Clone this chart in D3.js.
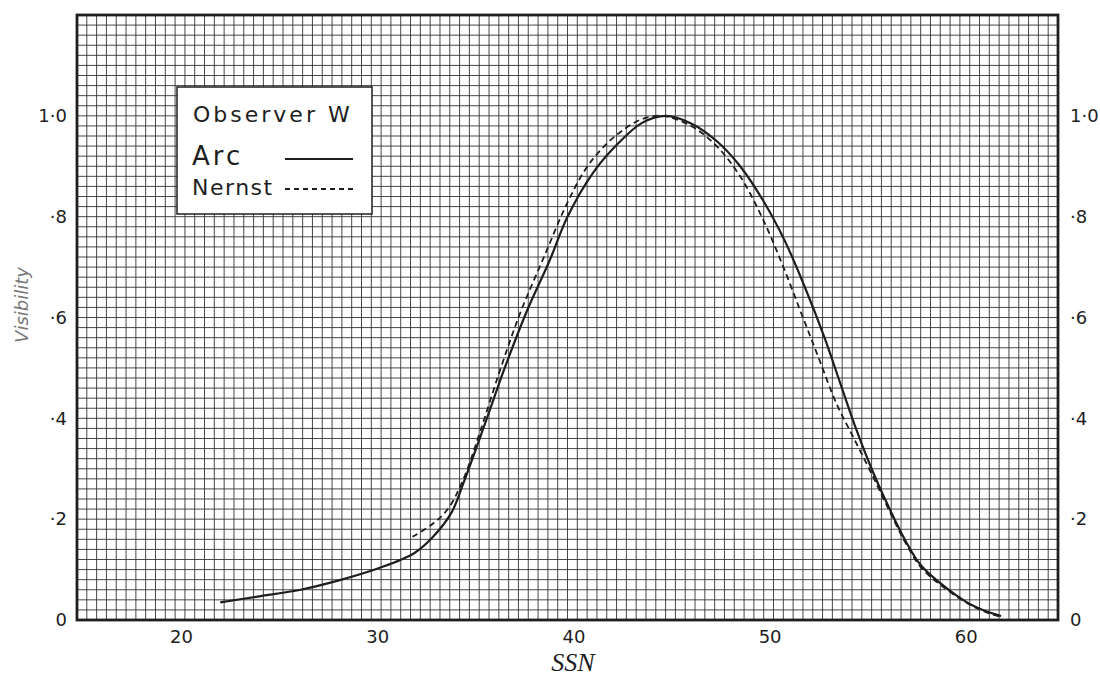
<!DOCTYPE html>
<html>
<head>
<meta charset="utf-8">
<script src="https://cdn.jsdelivr.net/npm/d3@7"></script>
<style>
  html, body { margin: 0; padding: 0; background: #fff; }
  svg { display: block; }
</style>
</head>
<body>
<svg id="chart" width="1100" height="680"></svg>
<script>
// ---- data ----
const ssnArc = [22.0, 24.0, 26.1, 28.0, 30.1, 31.9, 32.8, 33.8, 34.4, 35.5, 36.5, 37.6, 38.8, 39.7, 41.0, 42.2, 43.5, 44.7, 46.0, 47.3, 48.5, 49.7, 50.8, 51.8, 52.8, 53.6, 54.4, 55.2, 56.0, 56.9, 57.7, 58.7, 60.1, 61.0, 61.8];
const visArc = [0.035, 0.047, 0.060, 0.078, 0.103, 0.133, 0.163, 0.214, 0.272, 0.39, 0.50, 0.61, 0.714, 0.80, 0.887, 0.942, 0.986, 1.0, 0.985, 0.95, 0.90, 0.83, 0.75, 0.66, 0.56, 0.47, 0.38, 0.30, 0.23, 0.159, 0.109, 0.073, 0.034, 0.018, 0.008];
const ssnNernst = [31.8, 32.8, 33.6, 34.4, 35.3, 36.3, 37.3, 38.5, 39.6, 40.6, 41.5, 42.4, 43.4, 44.5, 46.0, 47.3, 48.5, 49.6, 50.6, 51.6, 52.5, 53.4, 54.3, 55.2, 56.0, 56.9, 57.7, 58.7, 60.1, 61.0, 61.8];
const visNernst = [0.165, 0.19, 0.22, 0.28, 0.38, 0.50, 0.61, 0.72, 0.82, 0.893, 0.937, 0.968, 0.992, 1.0, 0.98, 0.94, 0.88, 0.80, 0.71, 0.61, 0.52, 0.43, 0.36, 0.29, 0.225, 0.155, 0.105, 0.07, 0.033, 0.016, 0.006];
const xTicks = [20, 30, 40, 50, 60];
const yTicks = [0, 0.2, 0.4, 0.6, 0.8, 1.0];
const yTickLabels = ["0", "·2", "·4", "·6", "·8", "1·0"];
const xTitle = "SSN";
const yTitle = "Visibility";
const legendTitle = "Observer W";
const seriesNames = ["Arc", "Nernst"];

// ---- layout ----
const L = 77, R = 1058, T = 15, B = 620;
const xMin = 14.7, xMax = 64.7, yMax = 1.2;
const x = d3.scaleLinear().domain([xMin, xMax]).range([L, R]);
const y = d3.scaleLinear().domain([0, yMax]).range([B, T]);
const svg = d3.select("#chart");
const ink = "#1e1e1e";
const font = "DejaVu Sans, sans-serif";

// graph paper grid
const gx = d3.range(0, Math.round((xMax - xMin) / 0.5) + 1).map(i => xMin + i * 0.5);
const gy = d3.range(0, Math.round(yMax / 0.02) + 1).map(i => i * 0.02);
const grid = svg.append("g");
grid.selectAll("line.v").data(gx).join("line")
  .attr("x1", d => x(d)).attr("x2", d => x(d)).attr("y1", T).attr("y2", B)
  .attr("stroke", "#333").attr("stroke-width", 0.9);
grid.selectAll("line.h").data(gy).join("line")
  .attr("y1", d => y(d)).attr("y2", d => y(d)).attr("x1", L).attr("x2", R)
  .attr("stroke", "#333").attr("stroke-width", 0.9);

// border
svg.append("rect").attr("x", L).attr("y", T).attr("width", R - L).attr("height", B - T)
  .attr("fill", "none").attr("stroke", ink).attr("stroke-width", 2.8);

// axes (tick labels only)
const xAxis = d3.axisBottom(x).tickValues(xTicks).tickSize(0).tickPadding(10);
const gX = svg.append("g").attr("transform", `translate(0,${B})`).call(xAxis);
gX.select(".domain").remove();
gX.selectAll("text").attr("font-family", font).attr("font-size", 18).attr("fill", ink);

const yAxisL = d3.axisLeft(y).tickValues(yTicks).tickFormat((d, i) => yTickLabels[i]).tickSize(0).tickPadding(10);
const gYL = svg.append("g").attr("transform", `translate(${L},0)`).call(yAxisL);
gYL.select(".domain").remove();
gYL.selectAll("text").attr("font-family", font).attr("font-size", 18).attr("fill", ink);

const yAxisR = d3.axisRight(y).tickValues(yTicks).tickFormat((d, i) => yTickLabels[i]).tickSize(0).tickPadding(12);
const gYR = svg.append("g").attr("transform", `translate(${R},0)`).call(yAxisR);
gYR.select(".domain").remove();
gYR.selectAll("text").attr("font-family", font).attr("font-size", 18).attr("fill", ink);

// titles
svg.append("text").attr("x", 573).attr("y", 671).attr("text-anchor", "middle")
  .attr("font-family", "Liberation Serif, serif").attr("font-style", "italic")
  .attr("font-size", 26).attr("fill", ink).text(xTitle);
svg.append("text").attr("transform", "translate(28,305) rotate(-90)").attr("text-anchor", "middle")
  .attr("font-family", font).attr("font-style", "italic")
  .attr("font-size", 18).attr("fill", "#777").text(yTitle);

// curves
const line = d3.line().x(d => x(d[0])).y(d => y(d[1])).curve(d3.curveCatmullRom.alpha(0.5));
svg.append("path").datum(d3.zip(ssnArc, visArc)).attr("d", line)
  .attr("fill", "none").attr("stroke", ink).attr("stroke-width", 2.2);
svg.append("path").datum(d3.zip(ssnNernst, visNernst)).attr("d", line)
  .attr("fill", "none").attr("stroke", ink).attr("stroke-width", 1.8).attr("stroke-dasharray", "6,4");

// legend
const lg = svg.append("g");
lg.append("rect").attr("x", 177).attr("y", 87).attr("width", 195).attr("height", 127)
  .attr("fill", "#fff").attr("stroke", ink).attr("stroke-width", 1.5);
lg.append("text").attr("x", 193).attr("y", 122).attr("font-family", font)
  .attr("font-size", 22).attr("letter-spacing", 3).attr("fill", ink).text(legendTitle);
lg.append("text").attr("x", 192).attr("y", 165).attr("font-family", font)
  .attr("font-size", 26).attr("letter-spacing", 3).attr("fill", ink).text(seriesNames[0]);
lg.append("text").attr("x", 192).attr("y", 195).attr("font-family", font)
  .attr("font-size", 22).attr("letter-spacing", 1.5).attr("fill", ink).text(seriesNames[1]);
lg.append("line").attr("x1", 285).attr("x2", 353).attr("y1", 159).attr("y2", 159)
  .attr("stroke", ink).attr("stroke-width", 2.2);
lg.append("line").attr("x1", 285).attr("x2", 353).attr("y1", 189).attr("y2", 189)
  .attr("stroke", ink).attr("stroke-width", 1.8).attr("stroke-dasharray", "5,4");
</script>
</body>
</html>
